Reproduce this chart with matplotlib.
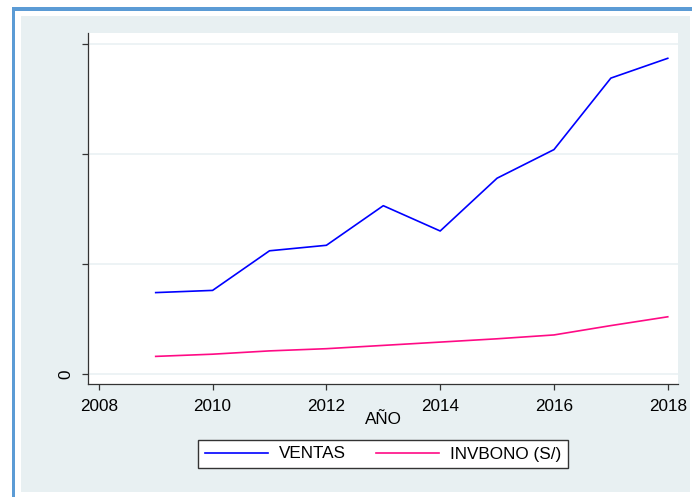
import matplotlib.pyplot as plt
from matplotlib.patches import Rectangle

plt.rcParams['font.family'] = ['Liberation Sans', 'DejaVu Sans']

# data (y values in tick-step units)
years = [2009, 2010, 2011, 2012, 2013, 2014, 2015, 2016, 2017, 2018]
ventas = [0.74, 0.76, 1.12, 1.17, 1.53, 1.30, 1.78, 2.04, 2.69, 2.87]
invbono = [0.16, 0.18, 0.21, 0.23, 0.26, 0.29, 0.32, 0.355, 0.44, 0.52]
x_ticks = [2008, 2010, 2012, 2014, 2016, 2018]
y_ticks = [0, 1, 2, 3]
y_labels = ['0', '', '', '']

W, H = 692, 497
fig = plt.figure(figsize=(W / 100, H / 100), dpi=100)

# light panel and blue frame
fig.add_artist(Rectangle((21 / W, 1 - 492 / H), (690 - 21) / W, (492 - 16) / H,
                         transform=fig.transFigure, facecolor='#e8f0f2',
                         edgecolor='none', zorder=-2))
fig.add_artist(Rectangle((12 / W, 0), 3 / W, 1 - 7 / H,
                         transform=fig.transFigure, facecolor='#5b9bd5',
                         edgecolor='none', zorder=-2))
fig.add_artist(Rectangle((12 / W, 1 - 11 / H), 1 - 12 / W, 4 / H,
                         transform=fig.transFigure, facecolor='#5b9bd5',
                         edgecolor='none', zorder=-2))

ax = fig.add_axes([88 / W, 1 - 384 / H, 590 / W, 351 / H])
ax.set_zorder(2)
ax.set_facecolor('white')

ax.plot(years, ventas, color='#0000ff', lw=1.2, label='VENTAS')
ax.plot(years, invbono, color='#ff0a85', lw=1.2, label='INVBONO (S/)')

ax.set_xlim(2007.81, 2018.18)
ax.set_ylim(-0.091, 3.1)
ax.set_xticks(x_ticks)
ax.set_yticks(y_ticks)
ax.set_yticklabels(y_labels, rotation=90, va='center')
ax.grid(axis='y', color='#eaf1f3', lw=1.2)
ax.set_axisbelow(True)

for s in ['top', 'right']:
    ax.spines[s].set_visible(False)
for s in ['left', 'bottom']:
    ax.spines[s].set_color('#333333')
    ax.spines[s].set_linewidth(0.9)
ax.tick_params(length=4.5, width=0.9, color='#333333', labelsize=12.3, pad=6)

ax.set_xlabel('AÑO', fontsize=12.3, labelpad=-1.5)

fig.legend(loc='center', bbox_to_anchor=(383 / W, 1 - 454 / H), ncol=2,
           fontsize=12.3, frameon=True, fancybox=False, edgecolor='#333333',
           framealpha=1, handlelength=3.7, handletextpad=0.6,
           columnspacing=1.8, borderpad=0.4)

fig.savefig('out.png', dpi=100)
